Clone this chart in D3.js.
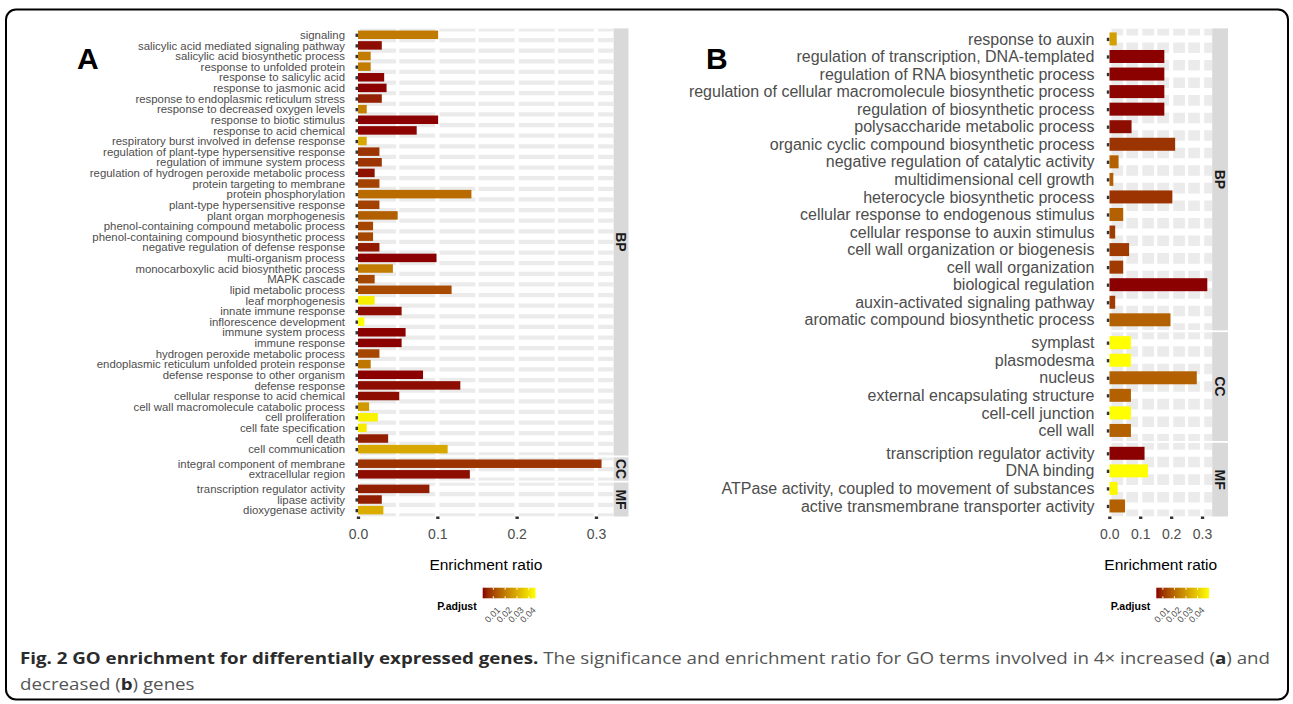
<!DOCTYPE html>
<html><head><meta charset="utf-8">
<script src="https://cdn.jsdelivr.net/npm/d3@7"></script>
<style>body{margin:0;background:#fff} svg{display:block;font-family:"Liberation Sans",Arial,sans-serif}</style>
</head><body>
<svg id="c" width="1293" height="704"></svg>
<script>
// ---------- data: panel A (4x increased genes) ----------
const termsA = ["signaling","salicylic acid mediated signaling pathway","salicylic acid biosynthetic process","response to unfolded protein","response to salicylic acid","response to jasmonic acid","response to endoplasmic reticulum stress","response to decreased oxygen levels","response to biotic stimulus","response to acid chemical","respiratory burst involved in defense response","regulation of plant-type hypersensitive response","regulation of immune system process","regulation of hydrogen peroxide metabolic process","protein targeting to membrane","protein phosphorylation","plant-type hypersensitive response","plant organ morphogenesis","phenol-containing compound metabolic process","phenol-containing compound biosynthetic process","negative regulation of defense response","multi-organism process","monocarboxylic acid biosynthetic process","MAPK cascade","lipid metabolic process","leaf morphogenesis","innate immune response","inflorescence development","immune system process","immune response","hydrogen peroxide metabolic process","endoplasmic reticulum unfolded protein response","defense response to other organism","defense response","cellular response to acid chemical","cell wall macromolecule catabolic process","cell proliferation","cell fate specification","cell death","cell communication","integral component of membrane","extracellular region","transcription regulator activity","lipase activity","dioxygenase activity"];
const ontologyA = ["BP","BP","BP","BP","BP","BP","BP","BP","BP","BP","BP","BP","BP","BP","BP","BP","BP","BP","BP","BP","BP","BP","BP","BP","BP","BP","BP","BP","BP","BP","BP","BP","BP","BP","BP","BP","BP","BP","BP","BP","CC","CC","MF","MF","MF"];
const ratioA = [0.101,0.030,0.016,0.016,0.033,0.036,0.030,0.011,0.101,0.074,0.011,0.027,0.030,0.021,0.027,0.143,0.027,0.050,0.019,0.019,0.027,0.099,0.044,0.021,0.118,0.021,0.055,0.008,0.060,0.055,0.027,0.016,0.082,0.129,0.052,0.014,0.025,0.011,0.038,0.113,0.307,0.141,0.090,0.030,0.032];
const padjA = [0.0198,0.0019,0.0205,0.0205,0.0012,0.0011,0.0041,0.0210,0.0010,0.0012,0.0290,0.0068,0.0068,0.0023,0.0090,0.0170,0.0090,0.0145,0.0099,0.0099,0.0032,0.0011,0.0205,0.0099,0.0108,0.0426,0.0019,0.0457,0.0010,0.0011,0.0099,0.0190,0.0011,0.0019,0.0019,0.0260,0.0435,0.0421,0.0037,0.0290,0.0068,0.0019,0.0037,0.0037,0.0300];

// ---------- data: panel B (decreased genes) ----------
const termsB = ["response to auxin","regulation of transcription, DNA-templated","regulation of RNA biosynthetic process","regulation of cellular macromolecule biosynthetic process","regulation of biosynthetic process","polysaccharide metabolic process","organic cyclic compound biosynthetic process","negative regulation of catalytic activity","multidimensional cell growth","heterocycle biosynthetic process","cellular response to endogenous stimulus","cellular response to auxin stimulus","cell wall organization or biogenesis","cell wall organization","biological regulation","auxin-activated signaling pathway","aromatic compound biosynthetic process","symplast","plasmodesma","nucleus","external encapsulating structure","cell-cell junction","cell wall","transcription regulator activity","DNA binding","ATPase activity, coupled to movement of substances","active transmembrane transporter activity"];
const ontologyB = ["BP","BP","BP","BP","BP","BP","BP","BP","BP","BP","BP","BP","BP","BP","BP","BP","BP","CC","CC","CC","CC","CC","CC","MF","MF","MF","MF"];
const ratioB = [0.024,0.178,0.178,0.178,0.178,0.072,0.213,0.030,0.013,0.204,0.045,0.019,0.064,0.045,0.317,0.019,0.198,0.070,0.070,0.283,0.070,0.070,0.070,0.114,0.125,0.027,0.051];
const padjB = [0.0310,0.0043,0.0044,0.0045,0.0046,0.0052,0.0102,0.0185,0.0178,0.0102,0.0185,0.0112,0.0112,0.0112,0.0043,0.0112,0.0185,0.0500,0.0500,0.0185,0.0185,0.0500,0.0185,0.0043,0.0500,0.0486,0.0185];

const facetOrder = ["BP","CC","MF"];
const xTicks = [0, 0.1, 0.2, 0.3];
const legendTicks = [0.01, 0.02, 0.03, 0.04];

const svg = d3.select("#c");
const defs = svg.append("defs");

function drawPanel(o) {
  const g = svg.append("g");
  const x = d3.scaleLinear().domain([0, d3.max(o.ratio) * 1.05]).range([o.x0, o.x1]);
  const color = d3.scaleLinear().domain(d3.extent(o.padj)).range(["#8B0000", "#FFFF00"]).interpolate(d3.interpolateLab);
  const minor = d3.pairs(xTicks).map(([a, b]) => (a + b) / 2).filter(v => v < x.domain()[1]);
  const facets = facetOrder.map(f => ({ name: f, idx: o.terms.map((t, i) => i).filter(i => o.onto[i] === f) })).filter(f => f.idx.length);
  const units = d3.sum(facets, f => f.idx.length + 0.2);
  const u = (o.bottom - o.top - o.spacing * (facets.length - 1)) / units;
  let cy = o.top;
  facets.forEach((f, fi) => {
    const h = (f.idx.length + 0.2) * u;
    const y = d3.scalePoint().domain(f.idx.map(i => o.terms[i])).range([cy, cy + h]).padding(0.6);
    const id = o.id + "clip" + fi;
    defs.append("clipPath").attr("id", id).append("rect").attr("x", o.x0).attr("y", cy).attr("width", o.x1 - o.x0).attr("height", h);
    const pg = g.append("g").attr("clip-path", `url(#${id})`);
    pg.append("rect").attr("x", o.x0).attr("y", cy).attr("width", o.x1 - o.x0).attr("height", h).attr("fill", "#EBEBEB");
    pg.selectAll(".hl").data(y.domain()).join("line")
      .attr("x1", o.x0).attr("x2", o.x1).attr("y1", d => y(d)).attr("y2", d => y(d))
      .attr("stroke", "#fff").attr("stroke-width", o.hLineW);
    pg.selectAll(".mn").data(minor).join("line")
      .attr("x1", d => x(d)).attr("x2", d => x(d)).attr("y1", cy).attr("y2", cy + h)
      .attr("stroke", "#fff").attr("stroke-width", 3.3);
    pg.selectAll(".mj").data(xTicks).join("line")
      .attr("x1", d => x(d)).attr("x2", d => x(d)).attr("y1", cy).attr("y2", cy + h)
      .attr("stroke", "#fff").attr("stroke-width", 4.3);
    const bw = o.barFrac * u;
    pg.selectAll(".bar").data(f.idx).join("rect")
      .attr("x", x(0)).attr("y", i => y(o.terms[i]) - bw / 2)
      .attr("width", i => x(o.ratio[i]) - x(0)).attr("height", bw)
      .attr("fill", i => color(o.padj[i]));
    // y axis
    const ax = g.append("g").attr("transform", `translate(${o.x0},0)`)
      .call(d3.axisLeft(y).tickSize(2.5).tickPadding(o.labPad));
    ax.select(".domain").remove();
    ax.selectAll(".tick line").attr("stroke", "#333").attr("stroke-width", 3.3);
    ax.selectAll(".tick text").attr("fill", "#4D4D4D").attr("font-size", o.labFont)
      .attr("font-family", '"Liberation Sans",Arial,sans-serif');
    // strip
    g.append("rect").attr("x", o.x1).attr("y", cy).attr("width", o.stripW).attr("height", h).attr("fill", "#D9D9D9");
    g.append("text").attr("transform", `translate(${o.x1 + o.stripW / 2},${cy + h / 2}) rotate(90)`)
      .attr("text-anchor", "middle").attr("dy", "0.36em").attr("font-size", 14).attr("font-weight", "bold")
      .attr("fill", "#1A1A1A").text(f.name);
    cy += h + o.spacing;
  });
  // x axis
  const xa = g.append("g").attr("transform", `translate(0,${o.bottom})`)
    .call(d3.axisBottom(x).tickValues(xTicks).tickFormat(d3.format(".1f")).tickSize(2.5).tickPadding(10.5));
  xa.select(".domain").remove();
  xa.selectAll(".tick line").attr("stroke", "#333").attr("stroke-width", 3.3);
  xa.selectAll(".tick text").attr("fill", "#4D4D4D").attr("font-size", 14)
    .attr("font-family", '"Liberation Sans",Arial,sans-serif');
  g.append("text").attr("x", (o.x0 + o.x1) / 2).attr("y", 570).attr("text-anchor", "middle")
    .attr("font-size", 15.5).attr("fill", "#000").text("Enrichment ratio");
  // panel letter
  svg.append("text").attr("x", o.letterX).attr("y", 69).attr("font-size", 30).attr("font-weight", "bold")
    .attr("fill", "#000").text(o.letter);
  // legend
  const lx = d3.scaleLinear().domain(color.domain()).range([o.legX, o.legX + 52.8]);
  const gid = o.id + "grad";
  const grad = defs.append("linearGradient").attr("id", gid).attr("x1", "0%").attr("x2", "100%");
  d3.range(0, 1.0001, 0.1).forEach(t => {
    grad.append("stop").attr("offset", (t * 100) + "%").attr("stop-color", color(lx.invert(o.legX + t * 52.8)));
  });
  const ly0 = 587.7, lh = 10.6;
  g.append("rect").attr("x", o.legX).attr("y", ly0).attr("width", 52.8).attr("height", lh).attr("fill", `url(#${gid})`);
  legendTicks.forEach(v => {
    const px = lx(v);
    g.append("line").attr("x1", px).attr("x2", px).attr("y1", ly0).attr("y2", ly0 + 2).attr("stroke", "#fff").attr("stroke-width", 1);
    g.append("line").attr("x1", px).attr("x2", px).attr("y1", ly0 + lh - 2).attr("y2", ly0 + lh).attr("stroke", "#fff").attr("stroke-width", 1);
    g.append("text").attr("transform", `translate(${px + 3},${ly0 + lh + 8}) rotate(-45)`)
      .attr("text-anchor", "end").attr("dy", "0.7em").attr("font-size", 9).attr("fill", "#4D4D4D").text(d3.format(".2f")(v));
  });
  g.append("text").attr("x", o.legX - 6).attr("y", 609.5).attr("text-anchor", "end")
    .attr("font-size", 10.5).attr("font-weight", "bold").attr("fill", "#000").text("P.adjust");
}

drawPanel({ id: "A", terms: termsA, onto: ontologyA, ratio: ratioA, padj: padjA,
  x0: 358, x1: 613.7, stripW: 14.8, top: 28.4, bottom: 516.5, spacing: 1.8,
  hLineW: 6.4, barFrac: 0.8, labFont: 11.4, labPad: 10.5, letter: "A", letterX: 77, legX: 482.7 });
drawPanel({ id: "B", terms: termsB, onto: ontologyB, ratio: ratioB, padj: padjB,
  x0: 1109.3, x1: 1212.2, stripW: 15.8, top: 28.4, bottom: 516.5, spacing: 1.8,
  hLineW: 7, barFrac: 0.74, labFont: 16, labPad: 12.4, letter: "B", letterX: 706, legX: 1156.3 });

// frame
svg.append("rect").attr("x", 6).attr("y", 9.5).attr("width", 1282).attr("height", 690).attr("rx", 10)
  .attr("fill", "none").attr("stroke", "#000").attr("stroke-width", 2);

// caption
const cap1 = svg.append("text").attr("x", 20).attr("y", 664).attr("font-size", 16)
  .attr("font-family", '"Open Sans",sans-serif');
cap1.append("tspan").attr("font-weight", "bold").attr("fill", "#2b2b2b").text("Fig. 2 GO enrichment for differentially expressed genes.");
cap1.append("tspan").attr("fill", "#555").text(" The significance and enrichment ratio for GO terms involved in 4\u00d7 increased (");
cap1.append("tspan").attr("font-weight", "bold").attr("fill", "#2b2b2b").text("a");
cap1.append("tspan").attr("fill", "#555").text(") and");
const cap2 = svg.append("text").attr("x", 20).attr("y", 690).attr("font-size", 16)
  .attr("font-family", '"Open Sans",sans-serif');
cap2.append("tspan").attr("fill", "#555").text("decreased (");
cap2.append("tspan").attr("font-weight", "bold").attr("fill", "#2b2b2b").text("b");
cap2.append("tspan").attr("fill", "#555").text(") genes");
const L1 = cap1.node().getComputedTextLength(), L2 = cap2.node().getComputedTextLength();
const k = 1250 / L1;
cap1.attr("textLength", 1250).attr("lengthAdjust", "spacingAndGlyphs");
cap2.attr("textLength", L2 * k).attr("lengthAdjust", "spacingAndGlyphs");
</script>
</body></html>
